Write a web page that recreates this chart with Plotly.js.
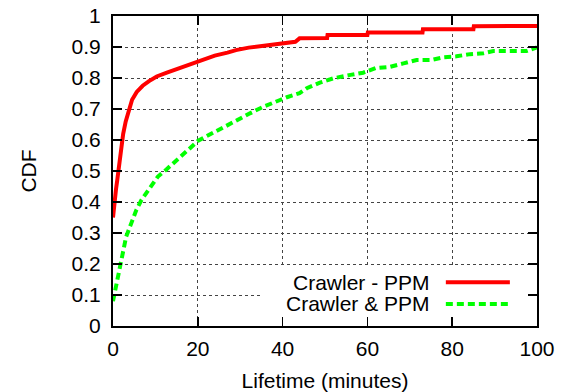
<!DOCTYPE html>
<html>
<head>
<meta charset="utf-8">
<script src="https://cdn.plot.ly/plotly-3.0.1.min.js"></script>
<style>html,body{margin:0;padding:0;background:#fff}#chart{width:561px;height:392px}</style>
</head>
<body>
<div id="chart"></div>
<script>
// Crawler - PPM (red, solid)
const redX = [0, 0.3, 0.7, 1, 1.4, 1.9, 2.4, 3, 3.8, 4.5, 5.6, 7, 8.5, 10.3, 12.7, 15, 17.4, 20.3, 22, 24, 27, 29, 32, 37.5, 43, 44, 50.5, 50.6, 60, 60.1, 73, 73.1, 85, 85.1, 100];
const redY = [0.35, 0.40, 0.44, 0.47, 0.52, 0.57, 0.62, 0.66, 0.70, 0.73, 0.755, 0.775, 0.79, 0.805, 0.817, 0.828, 0.842, 0.856, 0.862, 0.872, 0.882, 0.89, 0.898, 0.907, 0.917, 0.928, 0.929, 0.939, 0.939, 0.947, 0.947, 0.957, 0.957, 0.967, 0.968];
// Crawler & PPM (green, dashed)
const greenX = [0, 0.8, 1.6, 2.4, 3.1, 4.3, 5.5, 6.7, 7.9, 9.4, 10.6, 12.6, 14.9, 17.7, 20.1, 23, 26, 29, 32.3, 35.4, 39.4, 41, 44, 45.7, 48.8, 52, 56, 59, 62, 65.3, 68.5, 71.6, 75, 78, 81, 84.2, 87.4, 89.7, 97.5, 100];
const greenY = [0.08, 0.138, 0.19, 0.245, 0.288, 0.331, 0.374, 0.406, 0.428, 0.46, 0.482, 0.505, 0.535, 0.568, 0.598, 0.62, 0.64, 0.662, 0.686, 0.707, 0.729, 0.738, 0.751, 0.767, 0.785, 0.799, 0.81, 0.817, 0.832, 0.836, 0.847, 0.858, 0.858, 0.867, 0.87, 0.877, 0.88, 0.887, 0.887, 0.899];
const seriesNames = ["Crawler - PPM", "Crawler & PPM"];
const xTicks = [0, 20, 40, 60, 80, 100];
const yTicks = [0, 0.1, 0.2, 0.3, 0.4, 0.5, 0.6, 0.7, 0.8, 0.9, 1];
const yTickText = ["0", "0.1", "0.2", "0.3", "0.4", "0.5", "0.6", "0.7", "0.8", "0.9", "1"];
const xTitle = "Lifetime (minutes)";
const yTitle = "CDF";

const FONT = "Liberation Sans, Arial, sans-serif";
const traces = [
  {x: redX, y: redY, mode: "lines", name: seriesNames[0], line: {color: "#ff0000", width: 4}, showlegend: false},
  {x: greenX, y: greenY, mode: "lines", name: seriesNames[1], line: {color: "#00ff00", width: 4, dash: "7px,4px"}, showlegend: false}
];
const axisCommon = {
  showline: true, linecolor: "#000", linewidth: 2, mirror: "allticks",
  ticks: "inside", ticklen: 9, tickwidth: 1.5, tickcolor: "#000",
  showgrid: true, gridcolor: "#444", gridwidth: 1, griddash: "dot",
  zeroline: false, tickfont: {family: FONT, size: 21, color: "#000"}
};
const layout = {
  width: 561, height: 392,
  margin: {l: 113, r: 24, t: 16, b: 66},
  paper_bgcolor: "#fff", plot_bgcolor: "#fff",
  font: {family: FONT, size: 21, color: "#000"},
  xaxis: Object.assign({}, axisCommon, {range: [0, 100], tickvals: xTicks, ticktext: xTicks.map(String),
    ticklabelstandoff: 3,
    title: {text: xTitle, font: {family: FONT, size: 21}, standoff: 16}}),
  yaxis: Object.assign({}, axisCommon, {range: [0, 1], tickvals: yTicks, ticktext: yTickText,
    ticklabelstandoff: 6,
    title: {text: yTitle, font: {family: FONT, size: 21}, standoff: 29}}),
  showlegend: false,
  shapes: [
    {type: "rect", xref: "x", yref: "y", x0: 35, x1: 100, y0: 0, y1: 0.19, fillcolor: "#fff", line: {width: 0}, layer: "between"},
    {type: "line", xref: "paper", yref: "paper", x0: 0.785, x1: 0.936, y0: 0.141, y1: 0.141, line: {color: "#ff0000", width: 4}},
    {type: "line", xref: "paper", yref: "paper", x0: 0.785, x1: 0.936, y0: 0.071, y1: 0.071, line: {color: "#00ff00", width: 4, dash: "7px,4px"}}
  ],
  annotations: [
    {text: seriesNames[0], xref: "paper", yref: "paper", x: 0.752, y: 0.141, xanchor: "right", yanchor: "middle", showarrow: false, font: {family: FONT, size: 21}},
    {text: seriesNames[1], xref: "paper", yref: "paper", x: 0.752, y: 0.071, xanchor: "right", yanchor: "middle", showarrow: false, font: {family: FONT, size: 21}}
  ]
};
Plotly.newPlot("chart", traces, layout, {staticPlot: true, displayModeBar: false});
</script>
</body>
</html>
